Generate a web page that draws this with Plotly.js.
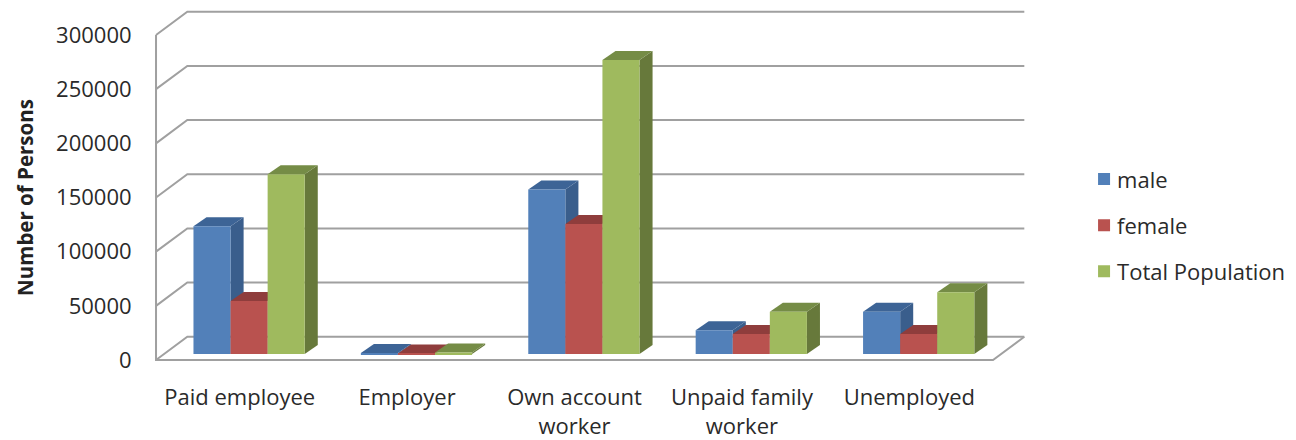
<!DOCTYPE html>
<html>
<head>
<meta charset="utf-8">
<script src="https://cdn.plot.ly/plotly-3.0.1.min.js"></script>
<style>html,body{margin:0;padding:0;background:#fff}</style>
</head>
<body>
<div id="chart" style="width:1296px;height:440px"></div>
<script>
const categories = ["Paid employee", "Employer", "Own account<br>worker", "Unpaid family<br>worker", "Unemployed"];
const seriesNames = ["male", "female", "Total Population"];
const male = [118000, 1000, 152000, 22000, 39000];
const female = [49000, 500, 120000, 18500, 18500];
const totalPopulation = [166000, 1500, 271500, 39000, 57000];
const yTicks = [0, 50000, 100000, 150000, 200000, 250000, 300000];

const frontColors = ["#5280b9", "#b9524f", "#9fba5e"];
const sideColors = ["#3a5e8c", "#8b3b39", "#67793b"];
const topColors = ["#3d6496", "#8f3d3c", "#758c46"];

// 3D look: offsets expressed in axis units
const series = [male, female, totalPopulation];
const positions = categories.map((_, i) => i);
const xShift = 0.056, barW = 0.2215;
const barBase = 5500, barDX = 0.078, barDY = 8300;
const wallDX = 0.187, wallDY = 21500;

const poly = pts => "M" + pts.map(p => p[0] + "," + p[1]).join("L") + "Z";
const shapes = [];
const wallLine = {color: "#a0a0a0", width: 2};

yTicks.forEach(v => {
  shapes.push({type: "path", xref: "x", yref: "y", layer: "below", line: wallLine,
    path: `M-0.5,${v}L${-0.5 + wallDX},${v + wallDY}L${4.5 + wallDX},${v + wallDY}`});
});
shapes.push({type: "path", xref: "x", yref: "y", layer: "below", line: wallLine,
  path: `M-0.5,${yTicks[yTicks.length - 1]}L-0.5,0L4.5,0L${4.5 + wallDX},${wallDY}`});

series.forEach((vals, j) => {
  vals.forEach((v, i) => {
    const l = i + xShift + (j - 1.5) * barW, r = l + barW;
    const t = barBase + v;
    shapes.push({type: "path", xref: "x", yref: "y", layer: "below", fillcolor: sideColors[j],
      line: {width: 0},
      path: poly([[r, barBase], [r, t], [r + barDX, t + barDY], [r + barDX, barBase + barDY]])});
    shapes.push({type: "path", xref: "x", yref: "y", layer: "below", fillcolor: topColors[j],
      line: {width: 0},
      path: poly([[l, t], [r, t], [r + barDX, t + barDY], [l + barDX, t + barDY]])});
  });
});

const traces = series.map((vals, j) => ({
  type: "bar",
  name: seriesNames[j],
  x: positions.map(p => p + xShift),
  y: vals,
  base: vals.map(() => barBase),
  legendgroup: seriesNames[j],
  marker: {color: frontColors[j]},
  hoverinfo: "name+y"
}));

const font = {family: "'Open Sans', 'DejaVu Sans', sans-serif", size: 22, color: "#2a2a2a"};

const layout = {
  width: 1296, height: 440,
  margin: {l: 152, r: 268, t: 10, b: 77, autoexpand: false},
  paper_bgcolor: "#fff", plot_bgcolor: "#fff",
  font: font,
  barmode: "group",
  bargap: 1 - 3 * barW,
  bargroupgap: 0,
  shapes: shapes,
  xaxis: {
    type: "linear", range: [-0.524, 4.709], tickmode: "array",
    tickvals: positions, ticktext: categories,
    showgrid: false, zeroline: false, showline: false,
    ticks: "outside", ticklen: 15, tickcolor: "rgba(0,0,0,0)",
    tickfont: font, tickangle: 0
  },
  yaxis: {
    range: [-2769, 323077], tickmode: "array", tickvals: yTicks,
    ticktext: yTicks.map(String),
    showgrid: false, zeroline: false, showline: false,
    ticks: "outside", ticklen: 15, tickcolor: "rgba(0,0,0,0)",
    tickfont: font,
    title: {text: "<b>Number of Persons</b>", standoff: 16,
      font: {family: font.family, size: 20.5, color: "#222"}}
  },
  showlegend: true,
  legend: {
    x: 1.056, xanchor: "left", y: 0.58, yanchor: "top",
    xref: "paper", yref: "paper",
    traceorder: "grouped", tracegroupgap: 14.5,
    font: font, bgcolor: "rgba(0,0,0,0)"
  }
};

Plotly.newPlot("chart", traces, layout, {displayModeBar: false}).then(() => {
  document.querySelectorAll(".legendsymbols").forEach(el => {
    el.setAttribute("transform", "translate(7,0)");
  });
  const yt = document.querySelector(".ytitle");
  if (yt) yt.setAttribute("transform", "translate(0,11) " + (yt.getAttribute("transform") || ""));
});
</script>
</body>
</html>
